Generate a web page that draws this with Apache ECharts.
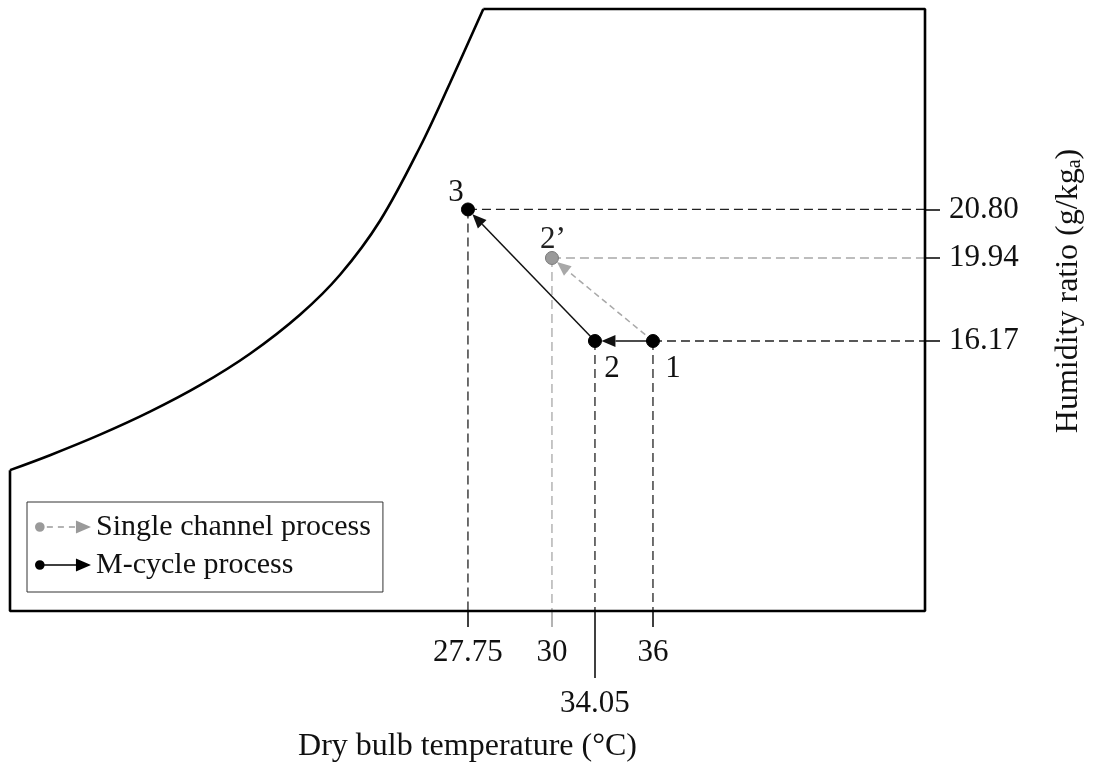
<!DOCTYPE html>
<html>
<head>
<meta charset="utf-8">
<script src="https://cdn.jsdelivr.net/npm/echarts@6/dist/echarts.min.js"></script>
<style>
  html, body { margin: 0; padding: 0; background: #fff; }
  #chart { width: 1102px; height: 771px; }
</style>
</head>
<body>
<div id="chart"></div>
<script>
// ---------------- data ----------------
const stateNames      = ['1', '2', '3', '2’'];
const stateTemp       = [36, 34.05, 27.75, 30];        // dry bulb temperature, °C
const stateHumidity   = [16.17, 16.17, 20.80, 19.94];  // humidity ratio, g/kg_a
const mCyclePath      = ['1', '2', '3'];
const singleChannelPath = ['1', '2’'];
const tempTicks       = [27.75, 30, 34.05, 36];
const tempTickLabels  = ['27.75', '30', '34.05', '36'];
const humidityTicks   = [20.80, 19.94, 16.17];
const humidityTickLabels = ['20.80', '19.94', '16.17'];
// saturation curve of the schematic chart (frame units 0–100)
const saturationCurve = [[0, 23.4], [4.37, 25.88], [9.84, 29.29], [15.3, 33.11], [20.77, 37.51],
  [26.23, 42.74], [31.69, 49.22], [36.07, 55.86], [40.44, 64.83], [44.81, 77.08],
  [48.09, 87.71], [51.73, 100]];

// ---------------- schematic scale (chart is not to scale) ----------------
const tempFramePos = [50.05, 59.23, 63.93, 70.27];   // where each temperature tick sits in the frame
const humFramePos  = [66.7, 58.64, 44.85];           // where each humidity tick sits in the frame
function xOf(t) { return tempFramePos[tempTicks.indexOf(t)]; }
function yOf(w) { return humFramePos[humidityTicks.indexOf(w)]; }
function labelFor(v, positions, labels) {
  let best = 0;
  positions.forEach((p, i) => { if (Math.abs(p - v) < Math.abs(positions[best] - v)) best = i; });
  return labels[best];
}
const statePos = {};
stateNames.forEach((n, i) => { statePos[n] = [xOf(stateTemp[i]), yOf(stateHumidity[i])]; });

const FONT = 'Liberation Serif, "Times New Roman", serif';
const BLACK = '#000';
const GRAY = '#9a9a9a';
const GRAY_LINE = '#a8a8a8';

// ---------------- series ----------------
const seriesList = [];
// frame + saturation curve
seriesList.push({
  type: 'line', data: saturationCurve, smooth: 0.35, symbol: 'none',
  lineStyle: { color: BLACK, width: 2.6 }, clip: false, silent: true, z: 3
});
const curveTop = saturationCurve[saturationCurve.length - 1], curveBot = saturationCurve[0];
seriesList.push({
  type: 'line', data: [curveBot, [0, 0], [100, 0], [100, 100], curveTop], symbol: 'none',
  lineStyle: { color: BLACK, width: 2.6 }, clip: false, silent: true, z: 3
});
// dashed guide lines
function guide(from, to, color) {
  return { type: 'line', data: [from, to], symbol: 'none', silent: true, clip: false, z: 2,
    lineStyle: { color: color, width: 1.3, type: [9, 5] } };
}
const p1 = statePos['1'], p2 = statePos['2'], p3 = statePos['3'], p2s = statePos['2’'];
seriesList.push(guide(p3, [100, p3[1]], '#222'));
seriesList.push(guide(p3, [p3[0], 0], '#222'));
seriesList.push(guide(p1, [100, p1[1]], '#222'));
seriesList.push(guide(p1, [p1[0], 0], '#222'));
seriesList.push(guide(p2, [p2[0], 0], '#222'));
seriesList.push(guide(p2s, [100, p2s[1]], GRAY_LINE));
seriesList.push(guide(p2s, [p2s[0], 0], GRAY_LINE));

// process arrows
function arrowSeries(name, path, color, dash) {
  const data = [];
  for (let i = 0; i < path.length - 1; i++) {
    const a = statePos[path[i]], b = statePos[path[i + 1]];
    data.push([a[0], a[1], b[0], b[1]]);
  }
  return {
    type: 'custom', name: name, data: data, silent: true, z: 4,
    renderItem: function (params, api) {
      const a = api.coord([api.value(0), api.value(1)]);
      const b = api.coord([api.value(2), api.value(3)]);
      const dx = b[0] - a[0], dy = b[1] - a[1], L = Math.hypot(dx, dy);
      const ux = dx / L, uy = dy / L, gap = 6.5, head = 14, w = 6;
      const tip = [b[0] - ux * gap, b[1] - uy * gap];
      const base = [tip[0] - ux * head, tip[1] - uy * head];
      const px = -uy, py = ux;
      return { type: 'group', children: [
        { type: 'line', shape: { x1: a[0], y1: a[1], x2: base[0], y2: base[1] },
          style: { stroke: color, lineWidth: 1.5, lineDash: dash } },
        { type: 'polygon', shape: { points: [tip, [base[0] + px * w, base[1] + py * w], [base[0] - px * w, base[1] - py * w]] },
          style: { fill: color } }
      ]};
    }
  };
}
seriesList.push(arrowSeries('Single channel process', singleChannelPath, GRAY_LINE, [6, 4]));
seriesList.push(arrowSeries('M-cycle process', mCyclePath, '#111', null));

// state points
const labelOffsets = { '1': [20, 28], '2': [17, 28], '3': [-12, -17], '2’': [1, -18] };
function stateSeries(name, names, color, border) {
  return {
    type: 'scatter', name: name, symbol: 'circle', symbolSize: 13, z: 6, silent: true,
    itemStyle: { color: color, borderColor: border, borderWidth: 1, opacity: 1 },
    data: names.map(n => ({ name: n, value: statePos[n],
      label: { show: true, position: 'inside', offset: labelOffsets[n], formatter: n,
        fontFamily: FONT, fontSize: 31, color: n === '2’' ? '#222' : '#111' } }))
  };
}
seriesList.push(stateSeries('M-cycle process', ['1', '2', '3'], BLACK, BLACK));
seriesList.push(stateSeries('Single channel process', ['2’'], GRAY, '#7a7a7a'));

// ---------------- axes ----------------
function xAxisBase(values, color, tickLen, margin, extra) {
  return Object.assign({
    type: 'value', min: 0, max: 100, position: 'bottom', offset: 0,
    axisLine: { show: false, onZero: false }, splitLine: { show: false },
    axisTick: { show: true, customValues: values, length: tickLen, lineStyle: { color: color, width: 1.5 } },
    axisLabel: { show: true, customValues: values, margin: margin, fontFamily: FONT, fontSize: 31, color: '#111',
      formatter: v => labelFor(v, tempFramePos, tempTickLabels) }
  }, extra || {});
}

const option = {
  animation: false,
  backgroundColor: '#fff',
  textStyle: { fontFamily: FONT },
  grid: { left: 10, right: 177, top: 9, bottom: 160, containLabel: false, outerBoundsMode: 'none' },
  legend: {
    orient: 'vertical', left: 27, top: 502, padding: [10, 12, 12, 8],
    borderColor: '#333', borderWidth: 1, itemWidth: 56, itemHeight: 14, itemGap: 8,
    selectedMode: false,
    textStyle: { fontFamily: FONT, fontSize: 30, color: '#111', lineHeight: 30 },
    data: [
      { name: 'Single channel process',
        icon: 'path://M5,2.2A4.8,4.8 0 1 1 5,11.8A4.8,4.8 0 1 1 5,2.2Z M12,6.3H18V7.7H12Z M23,6.3H29V7.7H23Z M34,6.3H40V7.7H34Z M41,0.5L56,7L41,13.5Z',
        itemStyle: { color: GRAY } },
      { name: 'M-cycle process',
        icon: 'path://M5,2.2A4.8,4.8 0 1 1 5,11.8A4.8,4.8 0 1 1 5,2.2Z M8,6.3H42V7.7H8Z M41,0.5L56,7L41,13.5Z',
        itemStyle: { color: BLACK } }
    ]
  },
  xAxis: [
    xAxisBase([xOf(27.75), xOf(36)], BLACK, 16, 26, {
      name: 'Dry bulb temperature (°C)', nameLocation: 'middle', nameGap: 120,
      nameTextStyle: { fontFamily: FONT, fontSize: 32, color: '#111' }
    }),
    xAxisBase([xOf(30)], GRAY, 16, 26),
    xAxisBase([xOf(34.05)], BLACK, 67, 77)
  ],
  yAxis: {
    type: 'value', min: 0, max: 100, position: 'right',
    axisLine: { show: false, onZero: false }, splitLine: { show: false },
    axisTick: { show: true, customValues: humFramePos, length: 15, lineStyle: { color: BLACK, width: 1.5 } },
    axisLabel: { show: true, customValues: humFramePos, margin: 24, fontFamily: FONT, fontSize: 31, color: '#111',
      formatter: v => labelFor(v, humFramePos, humidityTickLabels) },
    name: 'Humidity ratio (g/kg{sub|a})', nameLocation: 'middle', nameRotate: 90, nameGap: 128,
    nameTextStyle: { fontFamily: FONT, fontSize: 32, color: '#111', lineHeight: 32, padding: [0, 0, 0, 38],
      rich: { sub: { fontFamily: FONT, fontSize: 20, lineHeight: 12, verticalAlign: 'bottom', color: '#111' } } }
  },
  series: seriesList
};

const chart = echarts.init(document.getElementById('chart'), null, { renderer: 'canvas' });
chart.setOption(option);
</script>
</body>
</html>
